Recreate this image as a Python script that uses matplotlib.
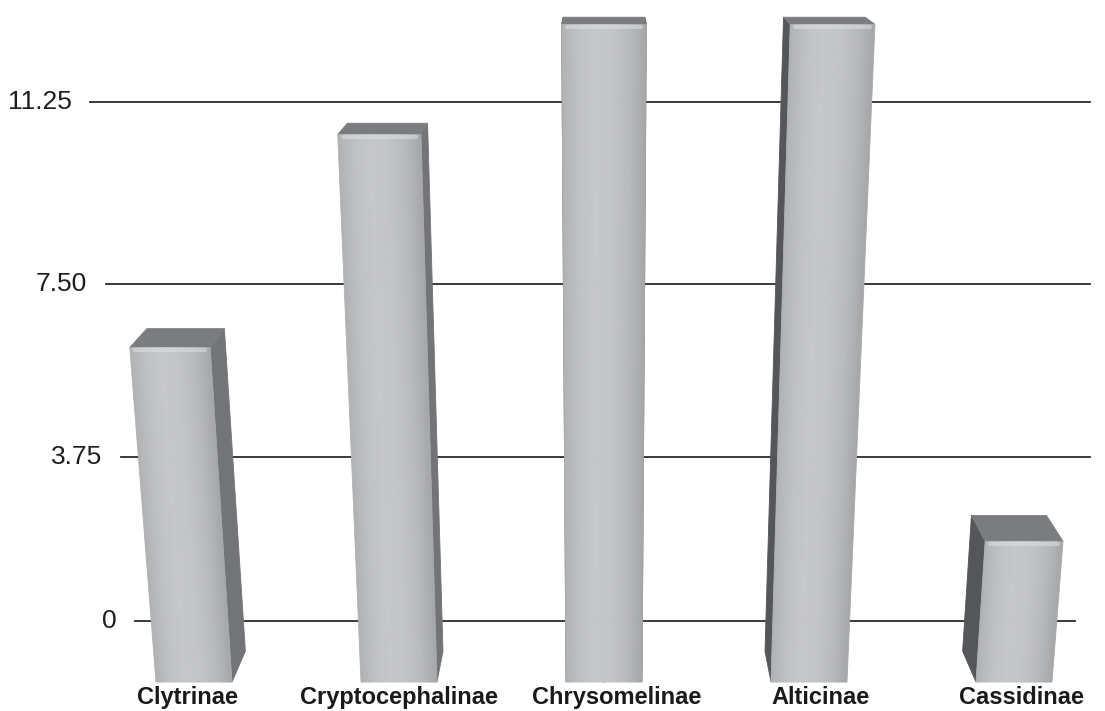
import matplotlib
matplotlib.use("Agg")
import matplotlib.pyplot as plt
from matplotlib.patches import Polygon
from matplotlib.colors import LinearSegmentedColormap
import numpy as np

plt.rcParams['font.family'] = ['Liberation Sans', 'DejaVu Sans']

# data
categories = ['Clytrinae', 'Cryptocephalinae', 'Chrysomelinae', 'Alticinae', 'Cassidinae']
values = [6.15, 10.6, 12.8, 12.8, 1.85]
yticks = [0, 3.75, 7.50, 11.25]
ytick_labels = ['0', '3.75', '7.50', '11.25']

# layout / perspective constants (pixels)
W, H = 1105, 711
VX = 604.0          # centre of the perspective
SPACING = 205.0     # px per category
BASE = -1.45        # bars are drawn down to the front floor
HALF_W = 38.0       # half width of a front face at the floor
K_SPREAD = 1.75e-4  # front faces widen upwards
VP = np.array([604.0, 887.0])  # depth vanishing point (display coords)
DEPTH = 0.036

A, B = 42.53, 0.32


def fwd(v):
    v = np.asarray(v, dtype=float)
    return A * v + B * v ** 2


def inv(u):
    u = np.asarray(u, dtype=float)
    return (-A + np.sqrt(np.maximum(A ** 2 + 4 * B * u, 0))) / (2 * B)


def px2x(p):
    return 2 + (p - VX) / SPACING


fig = plt.figure(figsize=(W / 100, H / 100), dpi=100)
ax = fig.add_axes([0, 0, 1, 1])
ax.set_xlim(px2x(0), px2x(W))
ax.set_yscale('function', functions=(fwd, inv))
ax.set_ylim(-2.15, 13.28)
ax.axis('off')

to_disp = ax.transData.transform
to_data = ax.transData.inverted().transform

# gridlines with perspective, and their labels
grid_start = [135, 121, 106, 90]
grid_end = [1075, 1090, 1090, 1090]
label_right = [117, 102, 87, 72]
for t, lab, x0, x1, xr in zip(yticks, ytick_labels, grid_start, grid_end, label_right):
    ax.plot([px2x(x0), px2x(x1)], [t, t], color='#2b2b2b', lw=1.3, zorder=1)
    ax.text(px2x(xr), t, lab, ha='right', va='center', fontsize=19, color='#1e1e1e')

front_cmap = LinearSegmentedColormap.from_list(
    'front', ['#b0b1b3', '#c0c1c3', '#c6c7c9', '#c3c4c6', '#b9babc', '#a6a7a9'])


def back(p):
    return VP + (p - VP) * (1 - DEPTH)


def add_poly(pts, color, z):
    poly = Polygon(to_data(np.array(pts)), closed=True, facecolor=color,
                   edgecolor=color, lw=0.6, zorder=z)
    ax.add_patch(poly)


for i, (cat, v) in enumerate(zip(categories, values)):
    xc = to_disp((i, 0))[0]
    yb = to_disp((i, BASE))[1]
    yt = to_disp((i, v))[1]

    def edge(xb, y):
        s = 1 + K_SPREAD * (y - yb)
        return VX + (xb - VX) * s

    xl_b, xr_b = xc - HALF_W, xc + HALF_W
    BL = np.array([xl_b, yb])
    BR = np.array([xr_b, yb])
    TL = np.array([edge(xl_b, yt), yt])
    TR = np.array([edge(xr_b, yt), yt])

    # side faces
    if xc < VX - 20:
        add_poly([TR, BR, back(BR), back(TR)], '#737477', 3)
    elif xc > VX + 20:
        add_poly([TL, BL, back(BL), back(TL)], '#55565a', 3)
    else:
        add_poly([TR, BR, back(BR), back(TR)], '#6a6b6e', 3)
        add_poly([TL, BL, back(BL), back(TL)], '#5a5b5e', 3)

    # top face
    add_poly([TL, TR, back(TR), back(TL)], '#7b7c80', 4)

    # front face, drawn as shaded strips
    n = 30
    for j in range(n):
        f0, f1 = j / n, (j + 1) / n
        b0 = BL + (BR - BL) * f0
        b1 = BL + (BR - BL) * f1
        t0 = TL + (TR - TL) * f0
        t1 = TL + (TR - TL) * f1
        add_poly([b0, b1, t1, t0], front_cmap((f0 + f1) / 2), 5)

    # soft highlight under the top edge
    hl = to_data(np.array([TL + [5, -3], TR + [-5, -3]]))
    ax.plot(hl[:, 0], hl[:, 1], color='#dfe0e2', lw=3, alpha=0.55, zorder=6,
            solid_capstyle='round')

# category labels
label_shift = [-6, 0, 13, 12, 8]
for i, (cat, dx) in enumerate(zip(categories, label_shift)):
    ax.text(i + dx / SPACING, 0.0195, cat, transform=ax.get_xaxis_transform(),
            ha='center', va='center', fontsize=17, fontweight='bold', color='#1a1a1a')

fig.savefig('out.png', dpi=100)
